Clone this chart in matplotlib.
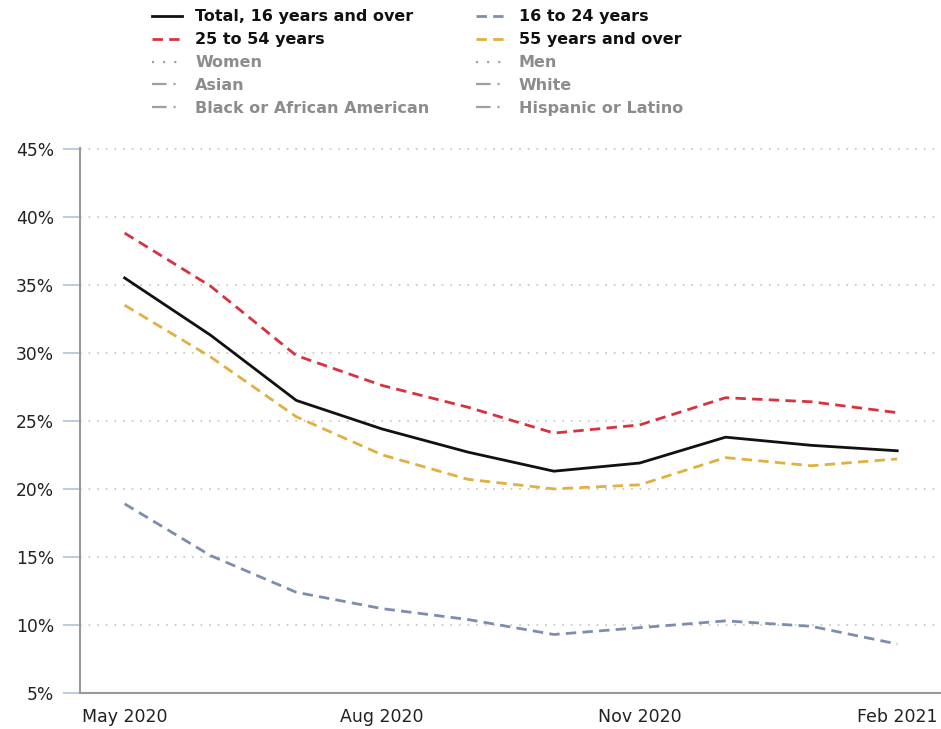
import matplotlib
matplotlib.use("Agg")
import matplotlib.pyplot as plt
from matplotlib.lines import Line2D

plt.rcParams['font.family'] = ['DejaVu Sans']
plt.rcParams['lines.scale_dashes'] = False

months = ["May 2020", "Jun 2020", "Jul 2020", "Aug 2020", "Sep 2020", "Oct 2020",
          "Nov 2020", "Dec 2020", "Jan 2021", "Feb 2021"]
tick_labels = ["May 2020", "Aug 2020", "Nov 2020", "Feb 2021"]
tick_idx = [0, 3, 6, 9]

total_16_over = [35.5, 31.3, 26.5, 24.4, 22.7, 21.3, 21.9, 23.8, 23.2, 22.8]
age_25_54 = [38.8, 34.9, 29.8, 27.6, 26.0, 24.1, 24.7, 26.7, 26.4, 25.6]
age_55_over = [33.5, 29.7, 25.3, 22.5, 20.7, 20.0, 20.3, 22.3, 21.7, 22.2]
age_16_24 = [18.9, 15.1, 12.4, 11.2, 10.4, 9.3, 9.8, 10.3, 9.9, 8.6]

y_ticks = [5, 10, 15, 20, 25, 30, 35, 40, 45]

fig = plt.figure(figsize=(9.41, 7.29), dpi=100)
ax = fig.add_axes([80 / 941, 36 / 729, 1 - 80 / 941, (693 - 148) / 729])

x = list(range(len(months)))
l_total, = ax.plot(x, total_16_over, color="#111111", lw=2.0, label="Total, 16 years and over")
l_2554, = ax.plot(x, age_25_54, color="#d8323e", lw=2.0, dashes=(7.5, 4.5), label="25 to 54 years")
l_55, = ax.plot(x, age_55_over, color="#e0b040", lw=2.0, dashes=(7.5, 4.5), label="55 years and over")
l_1624, = ax.plot(x, age_16_24, color="#7d8dab", lw=2.0, dashes=(7.5, 4.5), label="16 to 24 years")

ax.set_xlim(-0.52, 9.51)
ax.set_ylim(5, 45.05)
ax.set_yticks(y_ticks)
ax.set_yticklabels([f"{v}%" for v in y_ticks])
ax.set_xticks(tick_idx)
ax.set_xticklabels(tick_labels)

ax.tick_params(axis='y', length=12.5, width=1.3, color="#b8c8da", pad=6, labelsize=12.3, labelcolor="#222222")
ax.tick_params(axis='x', length=0, pad=11, labelsize=12.5, labelcolor="#222222")

for s in ["top", "right"]:
    ax.spines[s].set_visible(False)
for s in ["left", "bottom"]:
    ax.spines[s].set_color("#9a9a9a")
    ax.spines[s].set_linewidth(1.5)

ax.grid(axis='y', color="#bdbdbd", lw=1.1, dashes=(1.2, 5.0))
ax.set_axisbelow(True)
for gl in ax.get_ygridlines():
    gl.set_clip_on(False)

gray = "#a0a0a0"
dot_style = (1.5, 6.5)
dashdot_style = (10.5, 5, 1.5, 20)
h_women = Line2D([], [], color=gray, lw=1.6, dashes=dot_style)
h_men = Line2D([], [], color=gray, lw=1.6, dashes=dot_style)
h_asian = Line2D([], [], color=gray, lw=1.6, dashes=dashdot_style)
h_white = Line2D([], [], color=gray, lw=1.6, dashes=dashdot_style)
h_black = Line2D([], [], color=gray, lw=1.6, dashes=dashdot_style)
h_hisp = Line2D([], [], color=gray, lw=1.6, dashes=dashdot_style)

handles = [l_total, l_2554, h_women, h_asian, h_black,
           l_1624, l_55, h_men, h_white, h_hisp]
labels = ["Total, 16 years and over", "25 to 54 years", "Women", "Asian",
          "Black or African American", "16 to 24 years", "55 years and over",
          "Men", "White", "Hispanic or Latino"]
active = ("Total, 16 years and over", "25 to 54 years", "16 to 24 years", "55 years and over")

leg = fig.legend(handles, labels, ncol=2, loc="upper left",
                 bbox_to_anchor=(152 / 941, 1 - 9.5 / 729),
                 frameon=False, borderpad=0, borderaxespad=0,
                 handlelength=1.9, handletextpad=0.8, columnspacing=2.9,
                 labelspacing=0.49, prop={'weight': 'bold', 'size': 11.5})
for i, t in enumerate(leg.get_texts()):
    t.set_color("#111111" if labels[i] in active else "#8c8c8c")

fig.savefig("out.png", dpi=100)
